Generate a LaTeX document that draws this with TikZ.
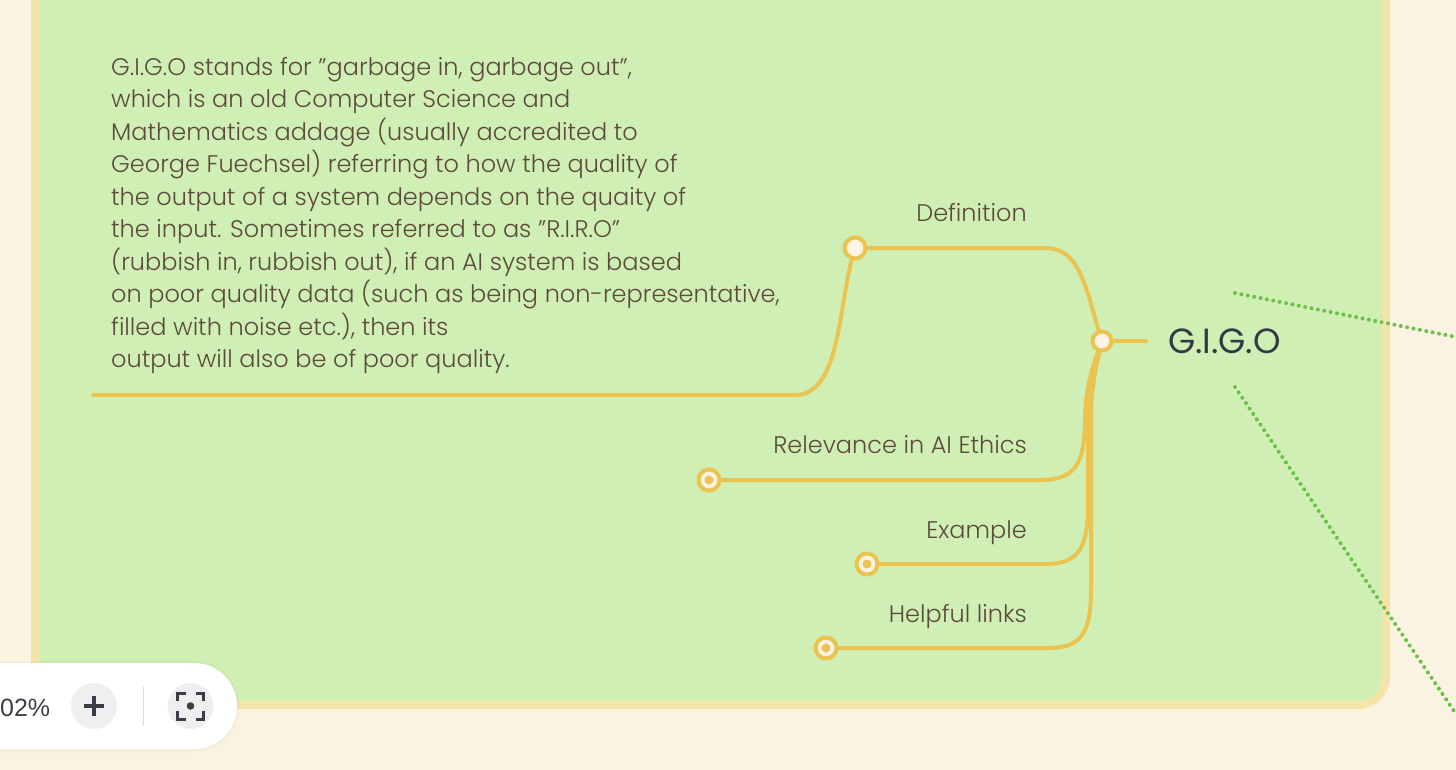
\documentclass[tikz,border=0pt]{standalone}
\usepackage{fontspec}
\setmainfont{Poppins}[UprightFont={* Light}]
\newfontfamily\rootfont{Poppins}
\newfontfamily\uifont{Liberation Sans}
\usepackage{xcolor}
\usetikzlibrary{positioning}
\definecolor{mmbg}{HTML}{FAF3E1}
\definecolor{mmpanel}{HTML}{D0EFB4}
\definecolor{mmpanelrim}{HTML}{F5E4A9}
\definecolor{mmyellow}{HTML}{EAC350}
\definecolor{mmcream}{HTML}{FBF4E3}
\definecolor{mmtext}{HTML}{5C4B3C}
\definecolor{mmdark}{HTML}{333A45}
\definecolor{mmgreen}{HTML}{6CC04A}
\definecolor{uidark}{HTML}{3A3F47}
\definecolor{uibtn}{HTML}{EFEFEF}
\pgfdeclarelayer{back}
\pgfdeclarelayer{links}
\pgfsetlayers{back,links,main}

\begin{document}
\begin{tikzpicture}[x=1pt,y=-1pt,
  branchline/.style={draw=mmyellow,line width=4pt,line cap=round},
  topicdot/.style={circle,draw=mmyellow,line width=4pt,fill=mmcream,minimum size=21pt,inner sep=0pt},
  leafdot/.style={topicdot,path picture={\fill[mmyellow] (path picture bounding box.center) circle (4.5pt);}},
  leaflabel/.style={anchor=base east,inner sep=0pt,text=mmtext,font=\fontsize{24}{28}\selectfont},
  greenlink/.style={draw=mmgreen,line width=4pt,line cap=round,dash pattern=on 0pt off 6.5pt},
  uibutton/.style={circle,fill=uibtn,minimum size=46pt,inner sep=0pt}]
\useasboundingbox (0,0) rectangle (1456,770);

\begin{pgfonlayer}{back}
\fill[mmbg] (0,0) rectangle (1456,770);
\draw[draw=mmpanelrim,line width=8pt,fill=mmpanel,rounded corners=28pt] (35,-40) rectangle (1386,705);
\end{pgfonlayer}

% central topic
\node[topicdot,minimum size=19pt] (rootdot) at (1102,341) {};
\coordinate (rootstub) at (1146,341);
\node[anchor=west,inner sep=0pt,text=mmdark,font=\rootfont\fontsize{35}{40}\selectfont,right=22pt of rootstub] (gigo) {G.I.G.O};
\coordinate (linkup) at (1235,293);
\coordinate (linkupend) at (1456,337);
\coordinate (linkdown) at (1235,387);
\coordinate (linkdownend) at (1456,714);

% subtopics
\node[topicdot] (defdot) at (855,248) {};
\node[leafdot] (reldot) at (709,480) {};
\node[leafdot] (exdot) at (867,564) {};
\node[leafdot] (linkdot) at (826,648) {};
\node[leaflabel] (deflabel) at (1027,222) {Definition};
\node[leaflabel] (rellabel) at (1027,453) {Relevance in AI Ethics};
\node[leaflabel] (exlabel) at (1027,538) {Example};
\node[leaflabel] (linklabel) at (1027,622) {Helpful links};

% definition text
\node[anchor=north west,inner sep=0pt,align=left,text=mmtext,font=\fontsize{24}{32.5}\selectfont] (defntext) at (111,57) {G.I.G.O stands for "garbage in, garbage out",\\
which is an old Computer Science and\\
Mathematics addage (usually accredited to\\
George Fuechsel) referring to how the quality of\\
the output of a system depends on the quaity of\\
the input. Sometimes referred to as "R.I.R.O"\\
(rubbish in, rubbish out), if an AI system is based\\
on poor quality data (such as being non-representative,\\
filled with noise etc.), then its\\
output will also be of poor quality.};
\coordinate (textend) at (93,395);

\begin{pgfonlayer}{links}
\draw[branchline] (rootdot.center) -- (rootstub);
\draw[branchline] (rootdot.center) .. controls (1086,292) and (1082,248) .. (1045,248) -- (defdot.center);
\draw[branchline] (rootdot.center) .. controls (1090,372) and (1085,395) .. (1085,420)
  .. controls (1085,468) and (1072,480) .. (1040,480) -- (reldot.center);
\draw[branchline] (rootdot.center) .. controls (1092,372) and (1088,395) .. (1088,420) -- (1088,505)
  .. controls (1088,552) and (1076,564) .. (1045,564) -- (exdot.center);
\draw[branchline] (rootdot.center) .. controls (1094,372) and (1091,395) .. (1091,420) -- (1091,590)
  .. controls (1091,636) and (1079,648) .. (1048,648) -- (linkdot.center);
\draw[branchline] (defdot.center) .. controls (838,300) and (842,395) .. (795,395) -- (textend);
\end{pgfonlayer}

\draw[greenlink] (linkup) -- (linkupend);
\draw[greenlink] (linkdown) -- (linkdownend);

% zoom controls
\fill[black,opacity=0.025,rounded corners=45pt] (-50,661) rectangle (239,752);
\fill[white,rounded corners=43pt] (-50,663) rectangle (237,749);
\node[anchor=base west,inner sep=0pt,text=uidark,font=\uifont\fontsize{25}{30}\selectfont] (zoomlevel) at (0,716) {02\%};
\node[uibutton] (zoomin) at (94,706) {};
\draw[uidark,line width=4pt] ([xshift=-10pt]zoomin.center) -- ([xshift=10pt]zoomin.center);
\draw[uidark,line width=4pt] ([yshift=-10pt]zoomin.center) -- ([yshift=10pt]zoomin.center);
\draw[black!15,line width=1pt] (143,687) -- (143,726);
\node[uibutton] (focusbtn) at (190.5,706) {};
\begin{scope}[shift={(focusbtn.center)},uidark,line width=3pt]
\draw (-13,-5) -- (-13,-13) -- (-5,-13);
\draw (5,-13) -- (13,-13) -- (13,-5);
\draw (13,5) -- (13,13) -- (5,13);
\draw (-5,13) -- (-13,13) -- (-13,5);
\fill (0,0) circle (3.8pt);
\end{scope}
\end{tikzpicture}
\end{document}
